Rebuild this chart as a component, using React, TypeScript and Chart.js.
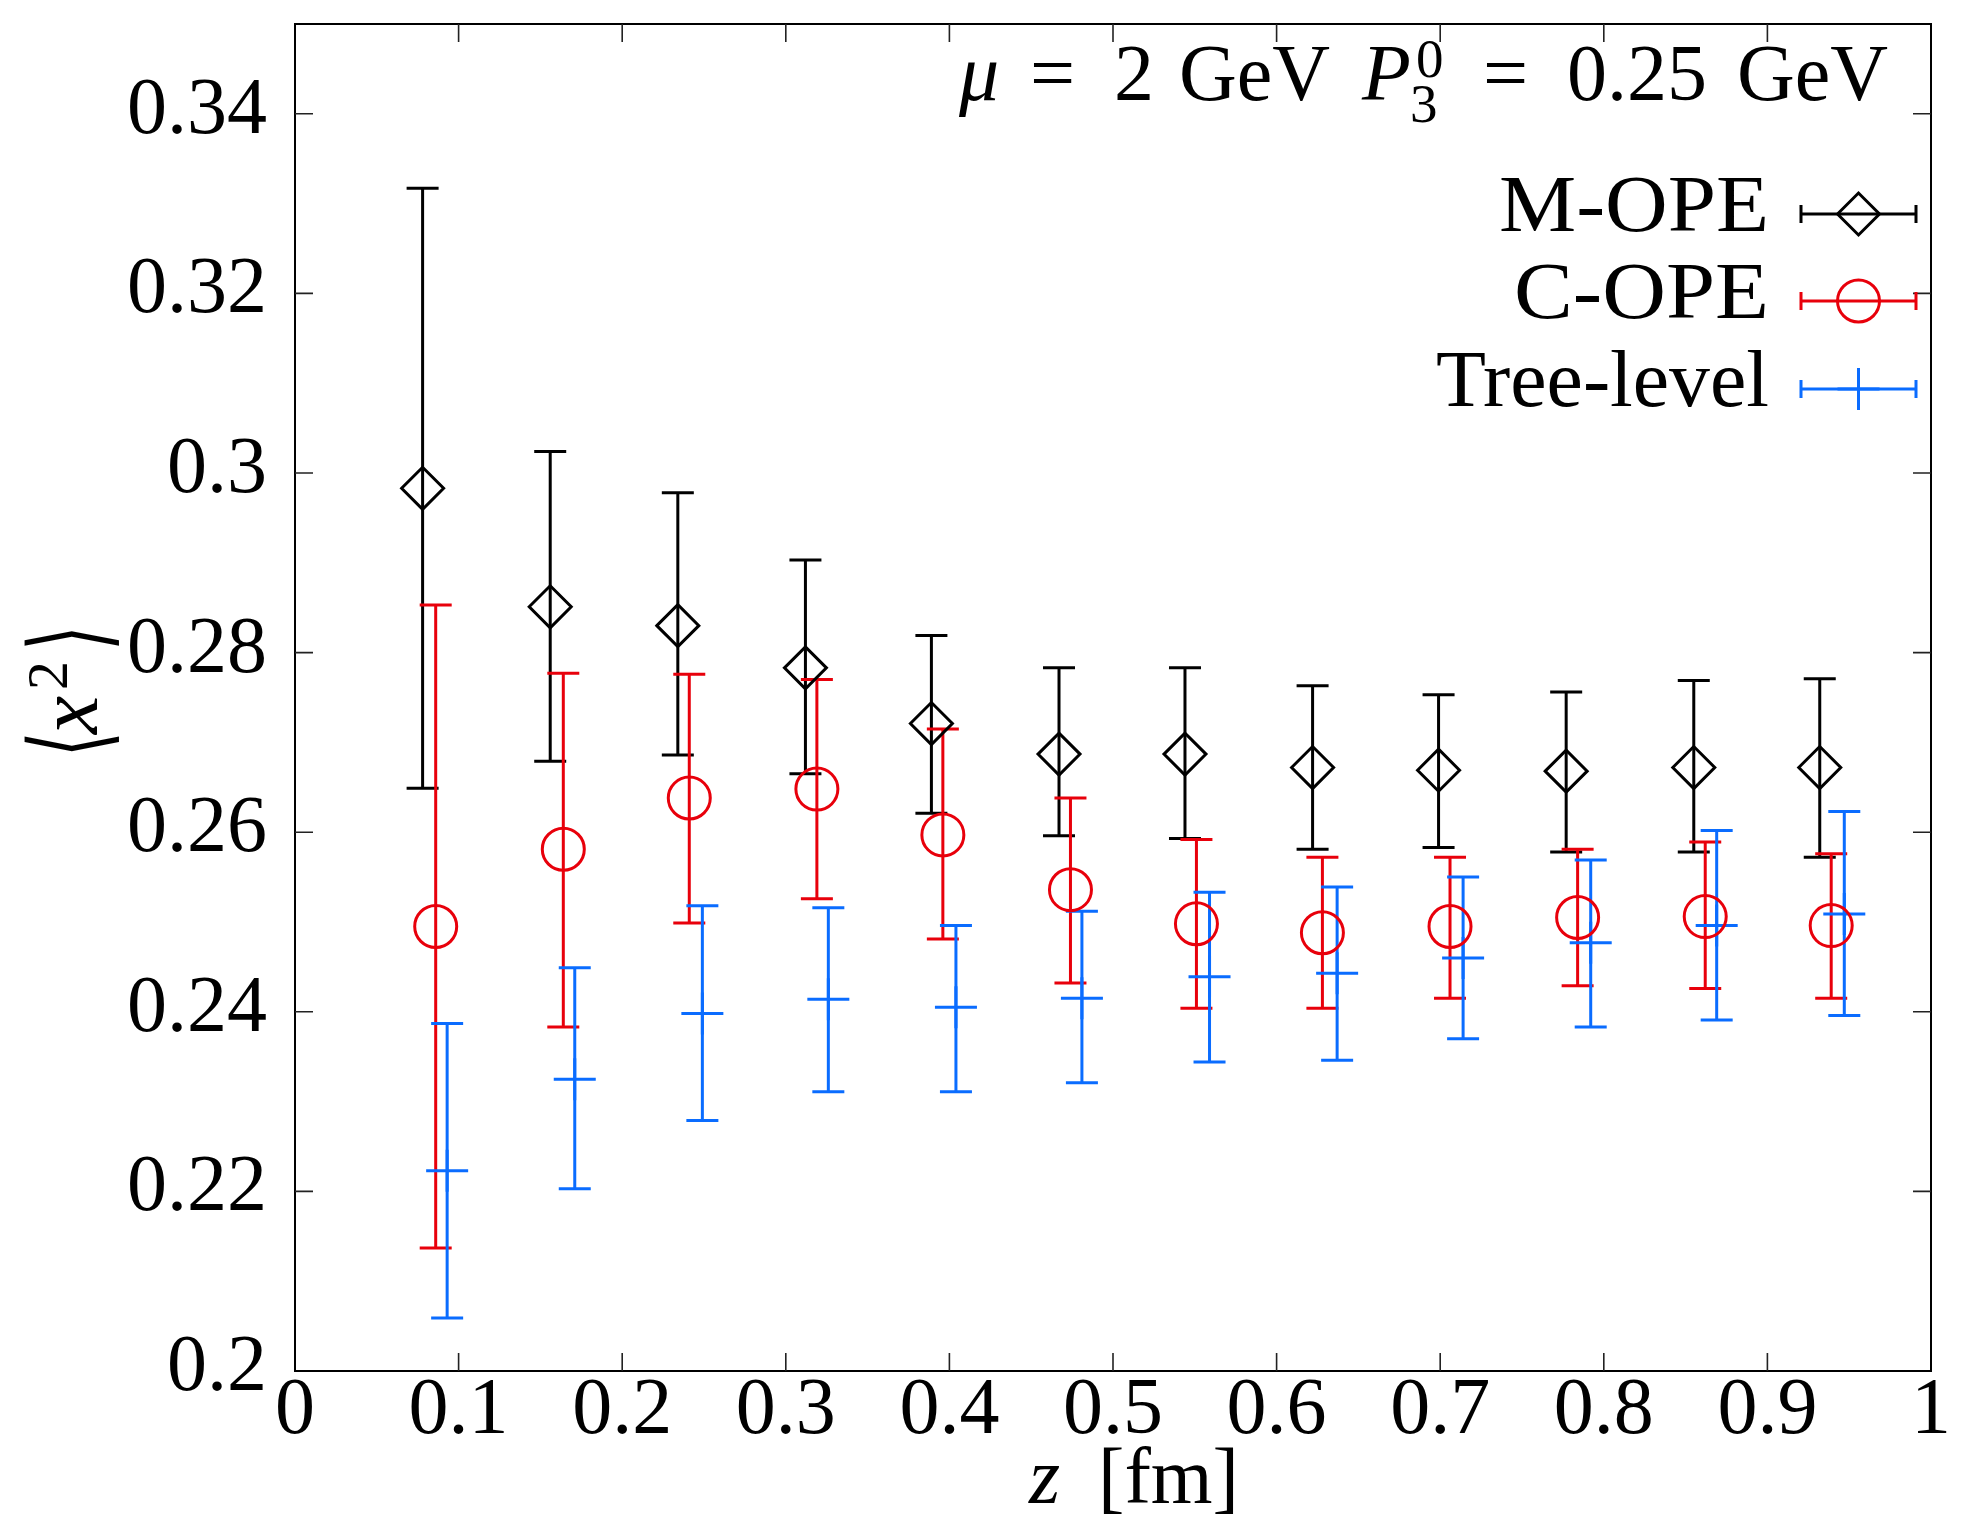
import { useEffect, useRef } from 'react';
import { Chart, registerables } from 'chart.js';

Chart.register(...registerables);

// z positions [fm]
const zM = [0.078, 0.156, 0.234, 0.312, 0.389, 0.467, 0.544, 0.622, 0.699, 0.777, 0.855, 0.932];
const zC = [0.086, 0.164, 0.241, 0.319, 0.396, 0.474, 0.551, 0.628, 0.706, 0.784, 0.862, 0.939];
const zT = [0.093, 0.171, 0.249, 0.326, 0.404, 0.481, 0.559, 0.637, 0.714, 0.792, 0.869, 0.947];

// M-OPE
const mVal = [0.2983, 0.2851, 0.2830, 0.2783, 0.2721, 0.2687, 0.2687, 0.2672, 0.2669, 0.2668, 0.2672, 0.2672];
const mHi = [0.3317, 0.3024, 0.2978, 0.2903, 0.2819, 0.2783, 0.2783, 0.2763, 0.2753, 0.2756, 0.2769, 0.2771];
const mLo = [0.2649, 0.2679, 0.2686, 0.2665, 0.2621, 0.2596, 0.2593, 0.2581, 0.2583, 0.2578, 0.2578, 0.2572];

// C-OPE
const cVal = [0.2495, 0.2581, 0.2638, 0.2648, 0.2597, 0.2536, 0.2498, 0.2488, 0.2495, 0.2505, 0.2506, 0.2496];
const cHi = [0.2853, 0.2777, 0.2776, 0.2770, 0.2715, 0.2638, 0.2592, 0.2572, 0.2572, 0.2581, 0.2589, 0.2576];
const cLo = [0.2137, 0.2383, 0.2499, 0.2526, 0.2481, 0.2432, 0.2404, 0.2404, 0.2415, 0.2429, 0.2426, 0.2415];

// Tree-level
const tVal = [0.2223, 0.2325, 0.2398, 0.2414, 0.2405, 0.2415, 0.2439, 0.2443, 0.2460, 0.2477, 0.2496, 0.2509];
const tHi = [0.2387, 0.2449, 0.2518, 0.2516, 0.2496, 0.2512, 0.2533, 0.2539, 0.2550, 0.2569, 0.2602, 0.2623];
const tLo = [0.2059, 0.2203, 0.2279, 0.2311, 0.2311, 0.2321, 0.2344, 0.2346, 0.2370, 0.2383, 0.2391, 0.2396];

const seriesLabels = ['M-OPE', 'C-OPE', 'Tree-level'];
const seriesColors = ['#000000', '#e8000b', '#0a6cff'];
const seriesStyles = ['rectRot', 'circle', 'cross'];

const X_MIN = 0, X_MAX = 1, X_STEP = 0.1;
const Y_MIN = 0.2, Y_MAX = 0.35, Y_STEP = 0.02;

const FONT = '"Liberation Serif", "DejaVu Serif", serif';
const F_REG = `80px ${FONT}`;
const F_IT = `italic 80px ${FONT}`;
const F_SMALL = `55px ${FONT}`;

const series = [
  { xs: zM, v: mVal, hi: mHi, lo: mLo },
  { xs: zC, v: cVal, hi: cHi, lo: cLo },
  { xs: zT, v: tVal, hi: tHi, lo: tLo },
];

const fmt = (v: number) => String(parseFloat(v.toFixed(2)));

function drawMarker(ctx: CanvasRenderingContext2D, style: string, x: number, y: number, r: number) {
  ctx.beginPath();
  if (style === 'rectRot') {
    ctx.moveTo(x - r, y); ctx.lineTo(x, y - r); ctx.lineTo(x + r, y); ctx.lineTo(x, y + r); ctx.closePath();
  } else if (style === 'circle') {
    ctx.arc(x, y, r, 0, Math.PI * 2);
  } else {
    ctx.moveTo(x - r, y); ctx.lineTo(x + r, y); ctx.moveTo(x, y - r); ctx.lineTo(x, y + r);
  }
  ctx.stroke();
}

// draw text stretched horizontally to a given width, anchored at its left edge
function fillStretched(ctx: CanvasRenderingContext2D, text: string, left: number, base: number, width: number) {
  const nat = ctx.measureText(text).width;
  const sx = width / nat;
  ctx.save();
  ctx.translate(left, base);
  ctx.scale(sx, 1);
  ctx.textAlign = 'left';
  ctx.fillText(text, 0, 0);
  ctx.restore();
}

const errPlugin = {
  id: 'errbars',
  beforeDatasetsDraw(chart: any) {
    const { ctx, scales } = chart;
    const xs = scales.x, ys = scales.y;
    series.forEach((s, k) => {
      ctx.save();
      ctx.strokeStyle = seriesColors[k];
      ctx.lineWidth = 3;
      const cap = 16;
      s.xs.forEach((xv, i) => {
        const px = xs.getPixelForValue(xv);
        const ph = ys.getPixelForValue(s.hi[i]);
        const pl = ys.getPixelForValue(s.lo[i]);
        ctx.beginPath();
        ctx.moveTo(px, ph); ctx.lineTo(px, pl);
        ctx.moveTo(px - cap, ph); ctx.lineTo(px + cap, ph);
        ctx.moveTo(px - cap, pl); ctx.lineTo(px + cap, pl);
        ctx.stroke();
      });
      ctx.restore();
    });
  },
};

const axesPlugin = {
  id: 'axesDeco',
  afterDraw(chart: any) {
    const { ctx, chartArea: a, scales } = chart;
    const xs = scales.x, ys = scales.y;
    ctx.save();
    // frame
    ctx.strokeStyle = '#000';
    ctx.lineWidth = 2;
    ctx.strokeRect(a.left, a.top, a.right - a.left, a.bottom - a.top);
    const tl = 18;
    ctx.lineWidth = 1.6;
    ctx.strokeStyle = '#222';
    ctx.beginPath();
    xs.ticks.forEach((t: any) => {
      const px = xs.getPixelForValue(t.value);
      if (px <= a.left + 1 || px >= a.right - 1) return;
      ctx.moveTo(px, a.bottom); ctx.lineTo(px, a.bottom - tl);
      ctx.moveTo(px, a.top); ctx.lineTo(px, a.top + tl);
    });
    ys.ticks.forEach((t: any) => {
      const py = ys.getPixelForValue(t.value);
      if (py <= a.top + 1 || py >= a.bottom - 1) return;
      ctx.moveTo(a.left, py); ctx.lineTo(a.left + tl, py);
      ctx.moveTo(a.right, py); ctx.lineTo(a.right - tl, py);
    });
    ctx.stroke();

    // tick labels
    ctx.fillStyle = '#000';
    ctx.font = F_REG;
    ctx.textBaseline = 'alphabetic';
    ctx.textAlign = 'right';
    ys.ticks.forEach((t: any) => {
      const py = ys.getPixelForValue(t.value);
      ctx.fillText(fmt(t.value), a.left - 28, py + 19);
    });
    ctx.textAlign = 'center';
    xs.ticks.forEach((t: any) => {
      const px = xs.getPixelForValue(t.value);
      ctx.fillText(fmt(t.value), px, 1433);
    });

    // x axis title: z [fm]
    ctx.textAlign = 'left';
    ctx.font = F_IT;
    ctx.fillText('z', 1029, 1503);
    ctx.font = F_REG;
    fillStretched(ctx, '[fm]', 1098, 1503, 141);

    // y axis title: <x^2>, rotated (u = -screenY, v = screenX - 97)
    ctx.translate(97, 0);
    ctx.rotate(-Math.PI / 2);
    ctx.textAlign = 'left';
    const brFont = '106px "DejaVu Sans", sans-serif';
    ctx.font = brFont;
    ctx.save();
    ctx.translate(-757, 8);
    ctx.scale(0.62, 1);
    ctx.fillText('⟨', 0, 0);
    ctx.restore();
    ctx.font = `italic 86px ${FONT}`;
    ctx.fillText('x', -734, 0);
    ctx.font = `58px ${FONT}`;
    ctx.fillText('2', -690, -30);
    ctx.font = brFont;
    ctx.save();
    ctx.translate(-651, 8);
    ctx.scale(0.62, 1);
    ctx.fillText('⟩', 0, 0);
    ctx.restore();
    ctx.restore();
  },
};

const titlePlugin = {
  id: 'titleLegend',
  afterDraw(chart: any) {
    const { ctx } = chart;
    ctx.save();
    ctx.fillStyle = '#000';
    ctx.textBaseline = 'alphabetic';
    ctx.textAlign = 'left';
    const base = 100;
    ctx.font = F_IT;
    ctx.fillText('μ', 959, base);
    ctx.font = F_REG;
    ctx.fillText('=', 1030, base);
    ctx.fillText('2', 1114, base);
    ctx.fillText('GeV', 1179, base);
    ctx.font = F_IT;
    ctx.fillText('P', 1362, base);
    ctx.font = F_SMALL;
    ctx.fillText('0', 1416, base - 23);
    ctx.fillText('3', 1410, base + 22);
    ctx.font = F_REG;
    ctx.fillText('=', 1483, base);
    ctx.fillText('0.25', 1567, base);
    ctx.fillText('GeV', 1737, base);

    // legend
    const rowsY = [214, 301, 389];
    const textRight = 1769;
    const textW = [270, 255, 333];
    const lx0 = 1801, lx1 = 1916, lxc = (lx0 + lx1) / 2;
    seriesLabels.forEach((lab, k) => {
      const y = rowsY[k];
      ctx.fillStyle = '#000';
      ctx.font = F_REG;
      fillStretched(ctx, lab, textRight - textW[k], y + 17, textW[k]);
      ctx.strokeStyle = seriesColors[k];
      ctx.lineWidth = 3;
      ctx.beginPath();
      ctx.moveTo(lx0, y); ctx.lineTo(lx1, y);
      ctx.moveTo(lx0, y - 9); ctx.lineTo(lx0, y + 9);
      ctx.moveTo(lx1, y - 9); ctx.lineTo(lx1, y + 9);
      ctx.stroke();
      drawMarker(ctx, seriesStyles[k], lxc, y, 21);
    });
    ctx.restore();
  },
};

export default function App() {
  const ref = useRef<HTMLCanvasElement | null>(null);
  useEffect(() => {
    if (!ref.current) return;
    const mk = (xs: number[], ys: number[]) => xs.map((x, i) => ({ x, y: ys[i] }));
    const chart = new Chart(ref.current, {
      type: 'scatter',
      data: {
        datasets: series.map((s, k) => ({
          label: seriesLabels[k],
          data: mk(s.xs, s.v),
          showLine: false,
          pointStyle: seriesStyles[k] as any,
          pointRadius: 21,
          pointHoverRadius: 21,
          pointBorderWidth: 3,
          pointBorderColor: seriesColors[k],
          pointBackgroundColor: 'rgba(0,0,0,0)',
          borderColor: seriesColors[k],
          backgroundColor: 'rgba(0,0,0,0)',
        })),
      },
      options: {
        responsive: false,
        maintainAspectRatio: false,
        devicePixelRatio: 1,
        animation: false,
        events: [],
        layout: { padding: { left: 0, top: 21, right: 48, bottom: 0 } },
        plugins: { legend: { display: false }, tooltip: { enabled: false }, title: { display: false } },
        scales: {
          x: {
            type: 'linear',
            min: X_MIN,
            max: X_MAX,
            ticks: { stepSize: X_STEP, display: false },
            grid: { display: false },
            border: { display: false },
            afterFit: (s: any) => { s.height = 145; },
          },
          y: {
            type: 'linear',
            min: Y_MIN,
            max: Y_MAX,
            ticks: { stepSize: Y_STEP, display: false, includeBounds: false },
            grid: { display: false },
            border: { display: false },
            afterFit: (s: any) => { s.width = 295; },
          },
        },
      },
      plugins: [errPlugin, axesPlugin, titlePlugin],
    });
    return () => chart.destroy();
  }, []);
  return (
    <div style={{ position: 'absolute', left: 0, top: 0, width: 1979, height: 1516, background: '#fff' }}>
      <canvas ref={ref} width={1979} height={1516} style={{ display: 'block' }} />
    </div>
  );
}
